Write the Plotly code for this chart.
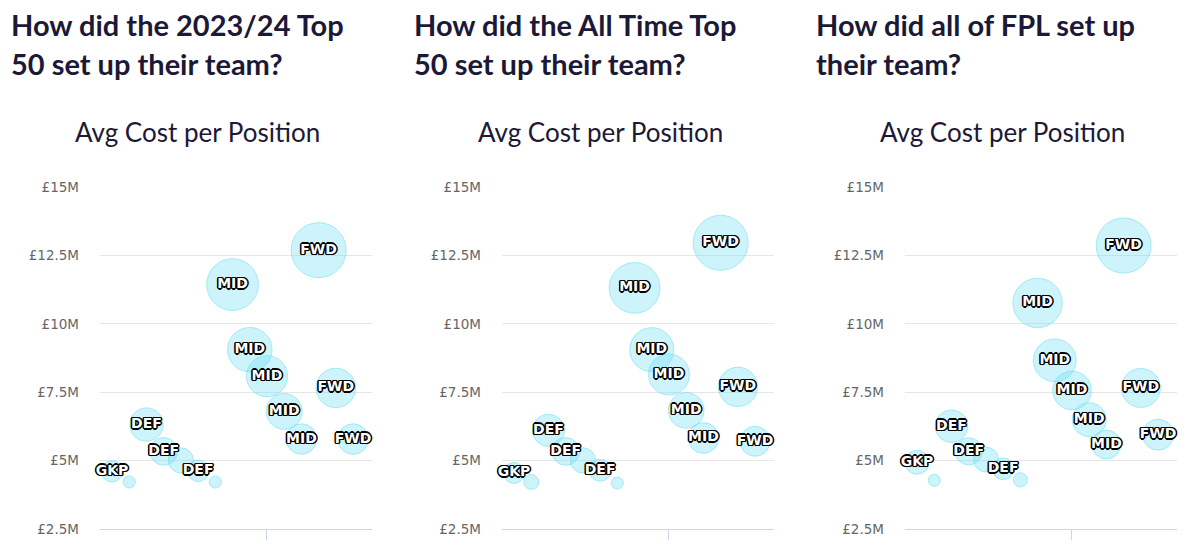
import numpy as np
import plotly.graph_objects as go

# player slots in squad order (2 GKP, 5 DEF, 5 MID, 3 FWD)
slots = list(range(1, 16))
positions = ['GKP', 'GKP', 'DEF', 'DEF', 'DEF', 'DEF', 'DEF',
             'MID', 'MID', 'MID', 'MID', 'MID', 'FWD', 'FWD', 'FWD']
# which bubbles carry a label (the rest are hidden by overlap)
labelled = [1, 0, 1, 1, 0, 1, 0, 1, 1, 1, 1, 1, 1, 1, 1]

# average cost in £M per slot
top50_2324 = [4.61, 4.22, 6.32, 5.34, 5.01, 4.63, 4.22,
              11.44, 9.06, 8.09, 6.80, 5.79, 12.70, 7.66, 5.79]
top50_all = [4.55, 4.22, 6.11, 5.34, 5.01, 4.65, 4.18,
             11.32, 9.06, 8.15, 6.84, 5.83, 12.97, 7.70, 5.71]
all_fpl = [4.94, 4.28, 6.26, 5.34, 5.04, 4.70, 4.30,
           10.77, 8.67, 7.57, 6.50, 5.59, 12.87, 7.66, 5.95]

titles = [['How did the 2023/24 Top', '50 set up their team?'],
          ['How did the All Time Top', '50 set up their team?'],
          ['How did all of FPL set up', 'their team?']]
subtitle = 'Avg Cost per Position'

W, H = 1200, 552
OFF = 8  # page body margin: figure sits 8px in from the window corner
plot_x = [(100, 372), (502, 774), (905, 1177)]
title_x = [10, 413, 815]
sub_x = [197, 600, 1002]


def px_x(v):
    return (v - OFF) / W


def px_y(v):
    return 1 - (v - OFF) / H


y_dom = [px_y(529), px_y(187.3)]

MIN_SIZE, MAX_SIZE = 12, 55
dark = '#1c1937'


def bubble_sizes(vals):
    v = np.array(vals)
    pos = (v - v.min()) / (v.max() - v.min())
    return MIN_SIZE + np.sqrt(pos) * (MAX_SIZE - MIN_SIZE)


fig = go.Figure()
layout = {}
annotations = []
outline = ('1px 1px 0px #000, -1px -1px 0px #000, 1px -1px 0px #000, -1px 1px 0px #000, '
           '0px 1.5px 0px #000, 0px -1.5px 0px #000, 1.5px 0px 0px #000, -1.5px 0px 0px #000')

for i, vals in enumerate([top50_2324, top50_all, all_fpl]):
    n = i + 1
    xa = 'x' if n == 1 else f'x{n}'
    ya = 'y' if n == 1 else f'y{n}'
    text = [p if l else '' for p, l in zip(positions, labelled)]
    fig.add_trace(go.Scatter(
        x=slots, y=vals, mode='markers+text', xaxis=xa, yaxis=ya,
        text=text, textposition='middle center',
        textfont=dict(family='DejaVu Sans', size=14, color='white',
                      weight='bold', shadow=outline),
        marker=dict(size=bubble_sizes(vals), sizemode='diameter',
                    color='rgba(120,225,245,0.52)',
                    line=dict(color='rgba(105,220,243,0.85)', width=1)),
        cliponaxis=False, showlegend=False, hoverinfo='skip'))

    x0, x1 = plot_x[i]
    layout['xaxis' if n == 1 else f'xaxis{n}'] = dict(
        domain=[px_x(x0), px_x(x1)], range=[0.3, 16.1], anchor=ya,
        tickvals=[10], showticklabels=False, ticks='outside', ticklen=10,
        tickcolor='#ccd6eb', showline=True, linecolor='#ccd6eb',
        showgrid=False, zeroline=False, fixedrange=True)
    layout['yaxis' if n == 1 else f'yaxis{n}'] = dict(
        domain=y_dom, range=[2.5, 15], anchor=xa, tick0=0, dtick=2.5,
        tickprefix='£', ticksuffix='M', showgrid=True, gridcolor='#e6e6e6',
        zeroline=False, ticks='', ticklabelstandoff=20,
        tickfont=dict(family='DejaVu Sans', size=13.5, color='#666666'),
        fixedrange=True)

    for j, line in enumerate(titles[i]):
        annotations.append(dict(
            text=line, x=px_x(title_x[i]), y=px_y(35 + 39 * j),
            xref='paper', yref='paper', xanchor='left', yanchor='bottom',
            showarrow=False, yshift=-8, borderpad=0,
            font=dict(family='Lato', size=29, color=dark, weight='bold')))
    annotations.append(dict(
        text=subtitle, x=px_x(sub_x[i]), y=px_y(143),
        xref='paper', yref='paper', xanchor='center', yanchor='bottom',
        showarrow=False, yshift=-7,
        font=dict(family='Lato', size=26, color=dark)))

fig.update_layout(
    width=W, height=H, margin=dict(l=0, r=0, t=0, b=0, autoexpand=False),
    paper_bgcolor='white', plot_bgcolor='white',
    annotations=annotations, **layout)

fig.write_html('out.html')
